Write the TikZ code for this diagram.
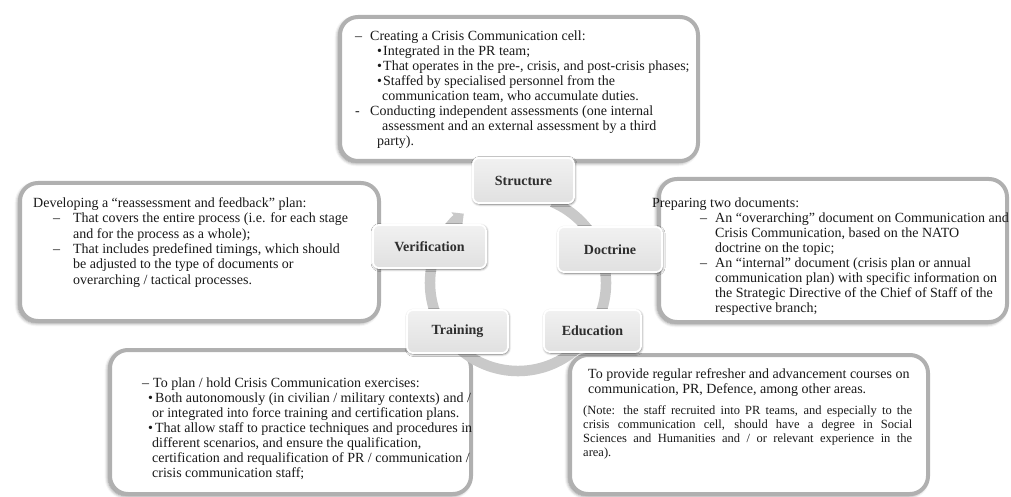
\documentclass[tikz,border=0pt]{standalone}
\usepackage{fontspec}
\setmainfont{Liberation Serif}
\usetikzlibrary{arrows.meta,shadows.blur}

\tikzset{
    panel/.style={draw=gray!62, line width=4pt, fill=white, rounded corners=18pt, outer sep=0pt,
        anchor=north west, blur shadow={shadow xshift=-1.8pt, shadow yshift=-1.8pt, shadow blur radius=3.5pt, shadow opacity=55}},
    stage/.style={draw=white, line width=1.8pt, top color=gray!11, bottom color=gray!24, rounded corners=6pt, inner sep=0pt,
        font=\bfseries\fontsize{14}{16}\selectfont, text=black!82,
        blur shadow={shadow xshift=0.6pt, shadow yshift=-1pt, shadow blur radius=2.5pt, shadow opacity=65}},
    body/.style={anchor=north west, inner sep=0pt, align=left, text=black!90, font=\fontsize{14}{15}\selectfont},
    cycle/.style={draw=gray!42, line width=10.5pt, -{Triangle[length=9pt,width=17pt]}}
}

\begin{document}
\begin{tikzpicture}[x=1pt,y=1pt,line join=round]
    \useasboundingbox (0,0) rectangle (1011,-497);
    \def\rad{88}

    \node[panel, minimum width=358pt, minimum height=144pt] (structpanel) at (340,-17) {};
    \node[panel, minimum width=359pt, minimum height=138pt] (verifpanel) at (20,-183) {};
    \node[panel, minimum width=348pt, minimum height=143pt] (doctpanel) at (659,-179) {};
    \node[panel, minimum width=361pt, minimum height=144pt] (trainpanel) at (110,-350) {};
    \node[panel, minimum width=358pt, minimum height=139pt] (educpanel) at (570,-355) {};

    \node[body] (structtext) at (355,-31) {%
        \makebox[15pt][l]{–}Creating a Crisis Communication cell:\\
        \hspace*{22pt}\makebox[6pt][l]{\textbullet}Integrated in the PR team;\\
        \hspace*{22pt}\makebox[6pt][l]{\textbullet}That operates in the pre-, crisis, and post-crisis phases;\\
        \hspace*{22pt}\makebox[6pt][l]{\textbullet}Staffed by specialised personnel from the\\
        \hspace*{27pt}communication team, who accumulate duties.\\
        \makebox[15pt][l]{-}Conducting independent assessments (one internal\\
        \hspace*{27pt}assessment and an external assessment by a third\\
        \hspace*{22pt}party).};

    \node[body, font=\fontsize{14}{15.3}\selectfont] (veriftext) at (33,-197.5) {%
        Developing a “reassessment and feedback” plan:\\
        \hspace*{20pt}\makebox[20pt][l]{–}That covers the entire process (i.e. for each stage\\
        \hspace*{40pt}and for the process as a whole);\\
        \hspace*{20pt}\makebox[20pt][l]{–}That includes predefined timings, which should\\
        \hspace*{40pt}be adjusted to the type of documents or\\
        \hspace*{40pt}overarching / tactical processes.};

    \node[body] (docttext) at (652,-197.5) {%
        Preparing two documents:\\
        \hspace*{48pt}\makebox[15pt][l]{–}An “overarching” document on Communication and\\
        \hspace*{63pt}Crisis Communication, based on the NATO\\
        \hspace*{63pt}doctrine on the topic;\\
        \hspace*{48pt}\makebox[15pt][l]{–}An “internal” document (crisis plan or annual\\
        \hspace*{63pt}communication plan) with specific information on\\
        \hspace*{63pt}the Strategic Directive of the Chief of Staff of the\\
        \hspace*{63pt}respective branch;};

    \node[body] (traintext) at (142,-377.5) {%
        \makebox[11pt][l]{–}To plan / hold Crisis Communication exercises:\\
        \hspace*{6pt}\makebox[7pt][l]{\textbullet}Both autonomously (in civilian / military contexts) and /\\
        \hspace*{10pt}or integrated into force training and certification plans.\\
        \hspace*{6pt}\makebox[7pt][l]{\textbullet}That allow staff to practice techniques and procedures in\\
        \hspace*{10pt}different scenarios, and ensure the qualification,\\
        \hspace*{10pt}certification and requalification of PR / communication /\\
        \hspace*{10pt}crisis communication staff;};

    \node[body] (eductext) at (588,-368) {%
        To provide regular refresher and advancement courses on\\
        communication, PR, Defence, among other areas.};
    \node[body, align=justify, text width=329pt, font=\fontsize{12.5}{14.2}\selectfont] (educnote) at (583,-405) {%
        (Note: the staff recruited into PR teams, and especially to the\linebreak
        crisis communication cell, should have a degree in Social\linebreak
        Sciences and Humanities and / or relevant experience in the\linebreak
        area).};

    \coordinate (hub) at (518,-283);
    \draw[cycle] (hub) ++(67:\rad) arc[start angle=67, end angle=-232, radius=\rad];

    \node[stage, minimum width=101pt, minimum height=45pt] (structure) at (523.5,-180.5) {Structure};
    \node[stage, minimum width=113pt, minimum height=43pt] (verification) at (429.5,-246.5) {Verification};
    \node[stage, minimum width=104pt, minimum height=45pt] (doctrine) at (610,-249.5) {Doctrine};
    \node[stage, minimum width=101pt, minimum height=43pt] (training) at (457.5,-331.5) {Training};
    \node[stage, minimum width=97pt, minimum height=42pt] (education) at (592.5,-331) {Education};
\end{tikzpicture}
\end{document}
